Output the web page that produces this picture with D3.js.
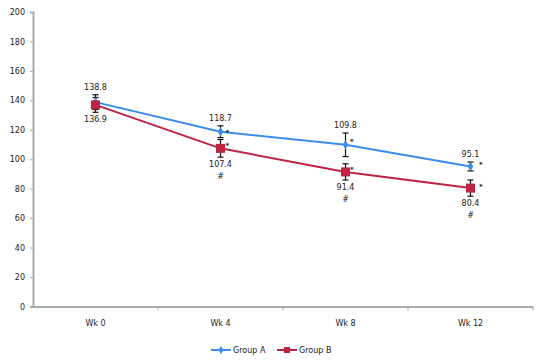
<!DOCTYPE html>
<html><head><meta charset="utf-8">
<script src="https://cdn.jsdelivr.net/npm/d3@7"></script>
<style>body{margin:0;background:#fff}svg{display:block}text{font-family:"DejaVu Sans",Verdana,sans-serif;fill:#1a1a1a}</style>
</head><body><svg id="c" width="537" height="364"></svg>
<script>
const categories = ["Wk 0", "Wk 4", "Wk 8", "Wk 12"];
const groupA = [138.8, 118.7, 109.8, 95.1];
const groupB = [136.9, 107.4, 91.4, 80.4];
const errA = [5, 4, 8, 3];
const errB = [5, 6, 5.5, 5.5];
const starA = [false, true, true, true];
const starB = [false, true, true, true];
const hashB = [false, true, true, true];
const yTicks = [0, 20, 40, 60, 80, 100, 120, 140, 160, 180, 200];
const seriesNames = ["Group A", "Group B"];

const svg = d3.select("#c");
const x = d3.scaleBand().domain(categories).range([33, 533]);
const y = d3.scaleLinear().domain([0, 200]).range([306.5, 12]);
const cx = c => x(c) + x.bandwidth() / 2;
const blue = "#3b8ced", red = "#be2341", axisCol = "#a3abab";

// y axis
const ya = svg.append("g").attr("transform", "translate(33,0)")
  .call(d3.axisLeft(y).tickValues(yTicks).tickSize(3).tickPadding(5));
ya.select(".domain").attr("stroke", axisCol).attr("stroke-width", 2);
ya.selectAll(".tick line").attr("stroke", axisCol);
ya.selectAll(".tick text").attr("font-size", 8).style("font-family", '"DejaVu Sans",sans-serif').attr("fill", "#1a1a1a");

// x axis
const xa = svg.append("g").attr("transform", `translate(0,${y(0)})`)
  .call(d3.axisBottom(x).tickSize(0).tickPadding(14));
xa.select(".domain").attr("stroke", axisCol).attr("stroke-width", 2);
xa.selectAll(".tick text").attr("font-size", 8).style("font-family", '"DejaVu Sans",sans-serif').attr("fill", "#1f2b55");
const bounds = categories.map(c => x(c)).concat([x.range()[1]]).slice(1);
svg.append("g").selectAll("line").data(bounds).join("line")
  .attr("x1", d => d).attr("x2", d => d).attr("y1", y(0)).attr("y2", y(0) + 4)
  .attr("stroke", axisCol).attr("stroke-width", 1);

const line = d3.line().x((d, i) => cx(categories[i])).y(d => y(d));

function errBars(vals, errs) {
  const g = svg.append("g").attr("stroke", "#111").attr("stroke-width", 1.2);
  vals.forEach((v, i) => {
    const X = cx(categories[i]);
    g.append("line").attr("x1", X).attr("x2", X).attr("y1", y(v + errs[i])).attr("y2", y(v - errs[i]));
    [v + errs[i], v - errs[i]].forEach(e => g.append("line").attr("x1", X - 3).attr("x2", X + 3).attr("y1", y(e)).attr("y2", y(e)));
  });
}

svg.append("path").datum(groupA).attr("d", line).attr("fill", "none").attr("stroke", blue).attr("stroke-width", 2);
svg.append("path").datum(groupB).attr("d", line).attr("fill", "none").attr("stroke", red).attr("stroke-width", 2);
errBars(groupA, errA);
errBars(groupB, errB);

svg.append("g").selectAll("path").data(groupA).join("path")
  .attr("d", d3.symbol(d3.symbolDiamond, 26))
  .attr("transform", (d, i) => `translate(${cx(categories[i])},${y(d)})`).attr("fill", blue);
svg.append("g").selectAll("rect").data(groupB).join("rect")
  .attr("x", (d, i) => cx(categories[i]) - 4.5).attr("y", d => y(d) - 4.5)
  .attr("width", 9).attr("height", 9).attr("fill", red);

const lab = svg.append("g").attr("font-size", 8).attr("text-anchor", "middle");
groupA.forEach((v, i) => lab.append("text").attr("x", cx(categories[i])).attr("y", y(v + errA[i]) - 5).text(v.toFixed(1)));
groupB.forEach((v, i) => lab.append("text").attr("x", cx(categories[i])).attr("y", y(v - errB[i]) + 10).text(v.toFixed(1)));
hashB.forEach((h, i) => { if (h) lab.append("text").attr("x", cx(categories[i])).attr("y", y(groupB[i] - errB[i]) + 22).text("#"); });

const st = svg.append("g").attr("font-size", 7).attr("font-weight", "bold");
const sdx = [0, 5, 4.5, 8.5];
starA.forEach((s, i) => { if (s) st.append("text").attr("x", cx(categories[i]) + sdx[i]).attr("y", y(groupA[i]) + [0, 3.4, -1, 0.6][i]).text("*"); });
starB.forEach((s, i) => { if (s) st.append("text").attr("x", cx(categories[i]) + sdx[i]).attr("y", y(groupB[i]) + [0, -0.6, 0, 0.7][i]).text("*"); });

const leg = svg.append("g").attr("font-size", 8);
const legItems = [{name: seriesNames[0], col: blue, x0: 211, t: "d"}, {name: seriesNames[1], col: red, x0: 277, t: "s"}];
legItems.forEach(l => {
  leg.append("line").attr("x1", l.x0).attr("x2", l.x0 + 20).attr("y1", 350).attr("y2", 350).attr("stroke", l.col).attr("stroke-width", 2);
  if (l.t === "d") leg.append("path").attr("d", d3.symbol(d3.symbolDiamond, 20)).attr("transform", `translate(${l.x0 + 10},350)`).attr("fill", l.col);
  else leg.append("rect").attr("x", l.x0 + 7).attr("y", 347).attr("width", 6).attr("height", 6).attr("fill", l.col);
  leg.append("text").attr("x", l.x0 + 22).attr("y", 353).text(l.name);
});
</script></body></html>
